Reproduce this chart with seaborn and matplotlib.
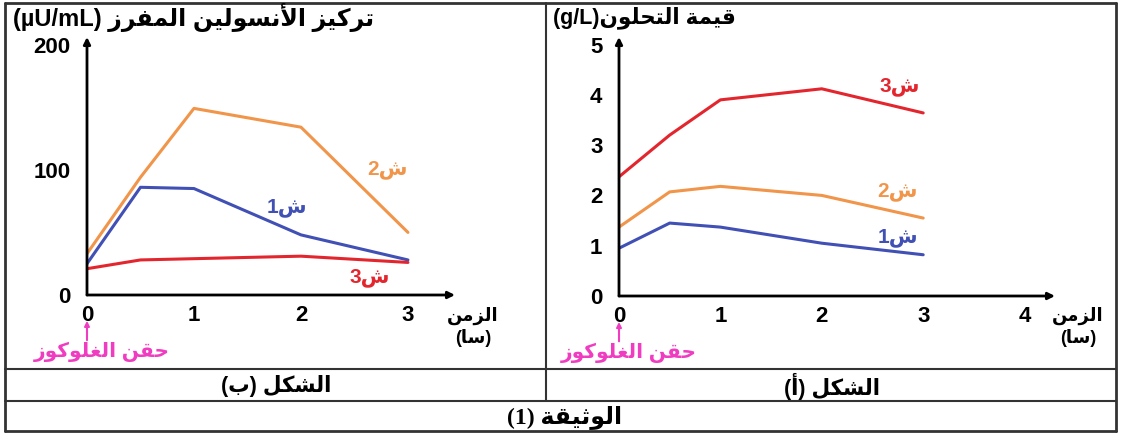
import pandas as pd
import seaborn as sns
import matplotlib.pyplot as plt
from matplotlib.lines import Line2D


# Insulin secreted (µU/mL) vs time (h) -- figure (b)
ins_time = [0, 0.5, 1, 2, 3]
ins_s1 = [25, 86, 85, 48, 28]
ins_s2 = [33, 94, 149, 134, 50]
ins_s3 = [21, 28, 29, 31, 26]

# Glycaemia (g/L) vs time (h) -- figure (a)
gly_time = [0, 0.5, 1, 2, 3]
gly_s1 = [0.95, 1.45, 1.37, 1.05, 0.82]
gly_s2 = [1.37, 2.07, 2.18, 2.00, 1.55]
gly_s3 = [2.37, 3.20, 3.90, 4.12, 3.64]

ins_yticks = [0, 100, 200]
ins_xticks = [0, 1, 2, 3]
gly_yticks = [0, 1, 2, 3, 4, 5]
gly_xticks = [0, 1, 2, 3, 4]

series = ['s1', 's2', 's3']
colors = {'s1': '#4150b5', 's2': '#f0954a', 's3': '#e3262e'}
pink = '#f03cc0'


# matplotlib has no arabic shaping, so pick presentation forms by hand
FORMS = {'ا': (0xFE8D, 2), 'أ': (0xFE83, 2), 'ب': (0xFE8F, 4), 'ة': (0xFE93, 2),
         'ت': (0xFE95, 4), 'ث': (0xFE99, 4), 'ح': (0xFEA1, 4), 'ر': (0xFEAD, 2),
         'ز': (0xFEAF, 2), 'س': (0xFEB1, 4), 'ش': (0xFEB5, 4), 'غ': (0xFECD, 4),
         'ف': (0xFED1, 4), 'ق': (0xFED5, 4), 'ك': (0xFED9, 4), 'ل': (0xFEDD, 4),
         'م': (0xFEE1, 4), 'ن': (0xFEE5, 4), 'و': (0xFEED, 2), 'ي': (0xFEF1, 4)}


def ar(text):
  toks = []
  i = 0
  while i < len(text):
    c = text[i]
    if c == 'ل' and i + 1 < len(text) and text[i + 1] in 'اأ':
      toks.append((0xFEFB if text[i + 1] == 'ا' else 0xFEF7, 2))
      i += 2
      continue
    toks.append(FORMS.get(c, c))
    i += 1
  out = []
  for k, t in enumerate(toks):
    if isinstance(t, str):
      out.append(t)
      continue
    prev = toks[k - 1] if k > 0 else None
    nxt = toks[k + 1] if k + 1 < len(toks) else None
    join_prev = isinstance(prev, tuple) and prev[1] == 4
    join_next = t[1] == 4 and isinstance(nxt, tuple)
    if join_prev and join_next:
      off = 3
    elif join_prev:
      off = 1
    elif join_next:
      off = 2
    else:
      off = 0
    out.append(chr(t[0] + off))
  return ''.join(out)[::-1]


def long_df(t, a, b, c):
  rows = []
  for name, vals in zip(series, [a, b, c]):
    for x, y in zip(t, vals):
      rows.append({'t': x, 'v': y, 'series': name})
  return pd.DataFrame(rows)


sns.set_theme(style='white')
plt.rcParams['font.family'] = ['Liberation Sans', 'DejaVu Sans']
plt.rcParams['font.weight'] = 'bold'

W, H = 1121, 436
fig = plt.figure(figsize=(W / 100, H / 100), dpi=100)


def px_axes(x0, y0, x1, y1):
  return fig.add_axes([x0 / W, 1 - y1 / H, (x1 - x0) / W, (y1 - y0) / H])


def style_axes(ax, xticks, yticks, xlim, ylim):
  ax.set_xlim(*xlim)
  ax.set_ylim(*ylim)
  ax.set_xticks(xticks)
  ax.set_yticks(yticks)
  ax.set_xlabel('')
  ax.set_ylabel('')
  for s in ax.spines.values():
    s.set_visible(False)
  ax.tick_params(axis='both', which='both', length=5, width=1, color='#555555',
                 direction='out', labelsize=16, labelcolor='black')
  ax.tick_params(axis='y', pad=7)
  ax.tick_params(axis='x', pad=2)
  for lab in ax.get_xticklabels() + ax.get_yticklabels():
    lab.set_fontweight('bold')
  arrow = dict(arrowstyle='-|>', lw=2, color='black', mutation_scale=10, shrinkA=0, shrinkB=0)
  ax.annotate('', xy=(1, 0), xytext=(0, 0), xycoords='axes fraction', arrowprops=arrow)
  ax.annotate('', xy=(0, 1), xytext=(0, 0), xycoords='axes fraction', arrowprops=arrow)
  ax.patch.set_alpha(0)


def injection(ax, text_x):
  tr = ax.get_xaxis_transform()
  ax.annotate('', xy=(0, -0.10), xytext=(0, -0.175), xycoords=tr,
              arrowprops=dict(arrowstyle='-|>', lw=1.5, color=pink, mutation_scale=7,
                              shrinkA=0, shrinkB=0), annotation_clip=False)
  ax.text(text_x, -0.22, ar('حقن الغلوكوز'), transform=tr, color=pink, fontsize=14.5,
          ha='center', va='center', fontweight='bold', clip_on=False)


# ---- figure (b): insulin
ax_b = px_axes(87, 37, 455, 295)
sns.lineplot(data=long_df(ins_time, ins_s1, ins_s2, ins_s3), x='t', y='v', hue='series',
             palette=colors, linewidth=2.2, legend=False, ax=ax_b)
style_axes(ax_b, ins_xticks, ins_yticks, (0, 3.44), (0, 206))
ax_b.text(2.81, 100, '2' + ar('ش'), color=colors['s2'], fontsize=15, ha='center', va='center')
ax_b.text(1.87, 70, '1' + ar('ش'), color=colors['s1'], fontsize=15, ha='center', va='center')
ax_b.text(2.64, 14, '3' + ar('ش'), color=colors['s3'], fontsize=15, ha='center', va='center')
injection(ax_b, 0.14)

# ---- figure (a): glycaemia
ax_a = px_axes(619, 37, 1055, 296)
sns.lineplot(data=long_df(gly_time, gly_s1, gly_s2, gly_s3), x='t', y='v', hue='series',
             palette=colors, linewidth=2.2, legend=False, ax=ax_a)
style_axes(ax_a, gly_xticks, gly_yticks, (0, 4.3), (0, 5.15))
ax_a.text(2.77, 4.16, '3' + ar('ش'), color=colors['s3'], fontsize=15, ha='center', va='center')
ax_a.text(2.75, 2.07, '2' + ar('ش'), color=colors['s2'], fontsize=15, ha='center', va='center')
ax_a.text(2.75, 1.17, '1' + ar('ش'), color=colors['s1'], fontsize=15, ha='center', va='center')
injection(ax_a, 0.10)


def ftext(x, y, s, **kw):
  kw.setdefault('fontweight', 'bold')
  kw.setdefault('color', 'black')
  fig.text(x / W, 1 - y / H, s, **kw)


# axis titles
ftext(13, 18, '(µU/mL) ' + ar('تركيز الأنسولين المفرز'), fontsize=17, ha='left', va='center')
ftext(553, 18, '(g/L)' + ar('قيمة التحلون'), fontsize=15.5, ha='left', va='center')
for xc in (473, 1078):
  ftext(xc, 316, ar('الزمن'), fontsize=13, ha='center', va='center')
  ftext(xc, 338, '(' + ar('سا') + ')', fontsize=13, ha='center', va='center')

# table captions
ftext(276, 386, '(' + ar('ب') + ') ' + ar('الشكل'), fontsize=15.5, ha='center', va='center')
ftext(832, 386, '(' + ar('أ') + ') ' + ar('الشكل'), fontsize=15.5, ha='center', va='center')
ftext(565, 417, '(1) ' + ar('الوثيقة'), fontsize=17, ha='center', va='center',
      family=['Liberation Serif', 'DejaVu Sans'])

# table frame
frame = '#333333'


def hline(y, x0=5, x1=1116, lw=2):
  fig.add_artist(Line2D([x0 / W, x1 / W], [1 - y / H, 1 - y / H], color=frame, lw=lw))


def vline(x, y0=3, y1=431, lw=2):
  fig.add_artist(Line2D([x / W, x / W], [1 - y0 / H, 1 - y1 / H], color=frame, lw=lw))


hline(3)
hline(431)
hline(369, lw=1.5)
hline(401, lw=1.5)
vline(5)
vline(1116)
vline(546, y1=401, lw=1.5)

fig.savefig('out.png', dpi=100)
